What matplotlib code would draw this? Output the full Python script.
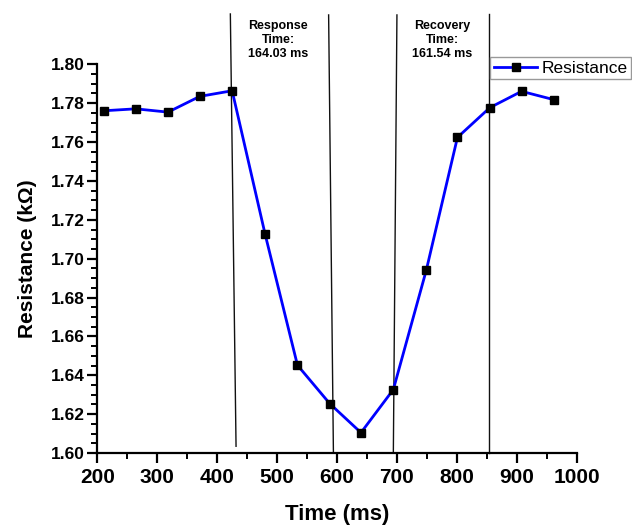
import numpy as np
import matplotlib.pyplot as plt
from matplotlib.ticker import MultipleLocator

plt.rcParams['font.family'] = ['Liberation Sans', 'DejaVu Sans']

# data
time_ms = [211, 264, 318, 371, 425, 480, 534, 588, 640, 694, 749, 801, 855, 908, 962]
resistance = [1.7761, 1.7771, 1.7754, 1.7835, 1.7864, 1.7126, 1.6452, 1.6254,
              1.6105, 1.6327, 1.6941, 1.7624, 1.7777, 1.7861, 1.7818]
# marker lines: (x top, y top, x bottom, y bottom)
marker_x_top = [422, 586, 700, 853]
marker_y_top = [1.8259, 1.8254, 1.8254, 1.8259]
marker_x_bot = [431.5, 594, 694, 853]
marker_y_bot = [1.6035, 1.60, 1.60, 1.60]
response_label = 'Response\nTime:\n164.03 ms'
recovery_label = 'Recovery\nTime:\n161.54 ms'

fig = plt.figure(figsize=(6.32, 5.25), dpi=100)
ax = fig.add_axes([0.154, 0.137, 0.7585, 0.7405])

ax.plot(time_ms, resistance, color='#0000ff', lw=2, marker='s', ms=6,
        mfc='black', mec='black', label='Resistance', zorder=3)

for xt, yt, xb, yb in zip(marker_x_top, marker_y_top, marker_x_bot, marker_y_bot):
    ax.plot([xt, xb], [yt, yb], color='#111111', lw=1, clip_on=False, zorder=2)

ax.text(502, 1.8230, response_label, ha='center', va='top', fontsize=9,
        fontweight='bold', linespacing=1.25, clip_on=False)
ax.text(776, 1.8230, recovery_label, ha='center', va='top', fontsize=9,
        fontweight='bold', linespacing=1.25, clip_on=False)

ax.set_xlim(200, 1000)
ax.set_ylim(1.60, 1.80)
ax.xaxis.set_major_locator(MultipleLocator(100))
ax.xaxis.set_minor_locator(MultipleLocator(50))
ax.yaxis.set_major_locator(MultipleLocator(0.02))
ax.yaxis.set_minor_locator(MultipleLocator(0.005))
ax.yaxis.set_major_formatter(plt.FormatStrFormatter('%.2f'))

for side in ['top', 'right']:
    ax.spines[side].set_visible(False)
for side in ['left', 'bottom']:
    ax.spines[side].set_linewidth(1.6)

ax.tick_params(which='major', direction='out', length=7, width=1.6)
ax.tick_params(which='minor', direction='out', length=4, width=1.4)
ax.tick_params(axis='x', labelsize=15, pad=4)
ax.tick_params(axis='y', labelsize=12.5, pad=2)
for lbl in ax.get_xticklabels() + ax.get_yticklabels():
    lbl.set_fontweight('bold')

ax.set_xlabel('Time (ms)', fontsize=16, fontweight='bold', labelpad=12)
ax.set_ylabel('Resistance (k\u03a9)', fontsize=15, fontweight='bold', labelpad=10)

leg = ax.legend(loc='upper left', bbox_to_anchor=(0.776, 0.891),
                bbox_transform=fig.transFigure, fontsize=12.5, numpoints=1,
                handlelength=2.5, handletextpad=0.25, borderpad=0.2,
                borderaxespad=0, fancybox=False, framealpha=1)
leg.get_frame().set_edgecolor('#999999')
leg.get_frame().set_linewidth(1)

plt.savefig('out.png', dpi=100)
